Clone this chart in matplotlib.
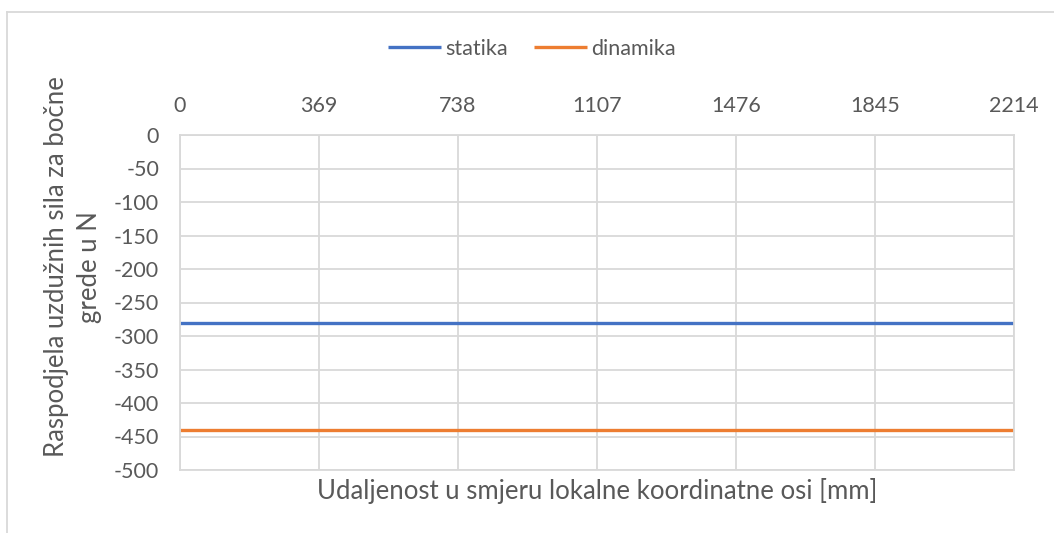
import matplotlib.pyplot as plt
from matplotlib.lines import Line2D

# Podaci: položaj duž grede i uzdužne sile
udaljenost = [0, 369, 738, 1107, 1476, 1845, 2214]
statika = [-281, -281, -281, -281, -281, -281, -281]
dinamika = [-440, -440, -440, -440, -440, -440, -440]
y_ticks = [0, -50, -100, -150, -200, -250, -300, -350, -400, -450, -500]

plava = '#4472C4'
narancasta = '#ED7D31'
siva_tekst = '#595959'
siva_mreza = '#D9D9D9'

plt.rcParams['font.family'] = ['Lato', 'DejaVu Sans']
plt.rcParams['axes.unicode_minus'] = False

fig = plt.figure(figsize=(10.54, 5.33), dpi=100)
ax = fig.add_axes([180 / 1054, 63 / 533, 834 / 1054, 335 / 533])

ax.plot(udaljenost, statika, color=plava, linewidth=2.4, label='statika', solid_capstyle='butt')
ax.plot(udaljenost, dinamika, color=narancasta, linewidth=2.4, label='dinamika', solid_capstyle='butt')

ax.set_xlim(0, 2214)
ax.set_ylim(-500, 0)
ax.set_xticks(udaljenost)
ax.set_yticks(y_ticks)
ax.xaxis.tick_top()
ax.tick_params(axis='x', length=0, pad=14, labelsize=15.5, labelcolor=siva_tekst)
ax.tick_params(axis='y', length=0, pad=15, labelsize=15.5, labelcolor=siva_tekst)
ax.grid(True, color=siva_mreza, linewidth=1.3)
ax.set_axisbelow(True)
for s in ax.spines.values():
    s.set_color(siva_mreza)
    s.set_linewidth(1.3)

ax.set_xlabel('Udaljenost u smjeru lokalne koordinatne osi [mm]', fontsize=18.5,
              color=siva_tekst, labelpad=6)
ax.set_ylabel('Raspodjela uzdužnih sila za bočne\ngrede u N', fontsize=18.5,
              color=siva_tekst, linespacing=1.4)
ax.yaxis.set_label_coords(-78 / 834, (470 - 267) / 335)

fig.legend(loc='center', bbox_to_anchor=(532 / 1054, 1 - 49 / 533), ncol=2, frameon=False,
           fontsize=15.5, labelcolor=siva_tekst, handlelength=2.45, handletextpad=0.23,
           columnspacing=1.2)

# okvir grafikona (vidljivi su samo gornji i lijevi rub)
fig.add_artist(Line2D([7 / 1054, 7 / 1054], [0, 1 - 12 / 533], transform=fig.transFigure,
                      color=siva_mreza, linewidth=1.3))
fig.add_artist(Line2D([7 / 1054, 1], [1 - 12 / 533, 1 - 12 / 533], transform=fig.transFigure,
                      color=siva_mreza, linewidth=1.3))

fig.savefig('out.png', dpi=100)
